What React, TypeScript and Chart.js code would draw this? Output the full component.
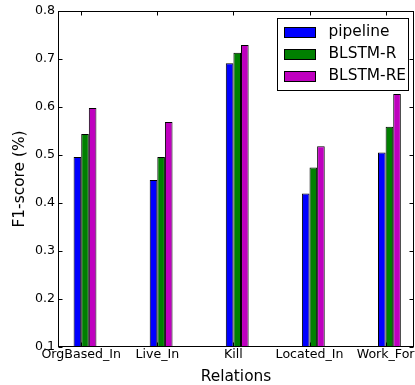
import React, { useEffect, useRef } from "react";
import { Chart, registerables } from "chart.js";

Chart.register(...registerables);

const categories = ["OrgBased_In", "Live_In", "Kill", "Located_In", "Work_For"];
const seriesNames = ["pipeline", "BLSTM-R", "BLSTM-RE"];
const pipeline = [0.496, 0.448, 0.691, 0.42, 0.505];
const blstmR = [0.544, 0.496, 0.713, 0.474, 0.559];
const blstmRE = [0.598, 0.569, 0.729, 0.518, 0.627];
const yTicks = [0.1, 0.2, 0.3, 0.4, 0.5, 0.6, 0.7, 0.8];
const colors = ["#0000ff", "#008000", "#bf00bf"];

const FONT = "'DejaVu Sans', sans-serif";

const frameAndLegend = {
  id: "frameAndLegend",
  afterDatasetsDraw(chart: any) {
    const { ctx, chartArea: ca, scales } = chart;
    ctx.save();
    ctx.strokeStyle = "#000";
    ctx.lineWidth = 1;
    const L = Math.round(ca.left) + 0.5;
    const R = Math.round(ca.right) - 0.5;
    const T = Math.round(ca.top) + 0.5;
    const B = Math.round(ca.bottom) - 0.5;
    ctx.strokeRect(L, T, R - L, B - T);
    const tl = 4;
    ctx.beginPath();
    scales.y.ticks.forEach((_: any, i: number) => {
      const y = Math.round(scales.y.getPixelForTick(i)) + 0.5;
      ctx.moveTo(L, y);
      ctx.lineTo(L + tl, y);
      ctx.moveTo(R, y);
      ctx.lineTo(R - tl, y);
    });
    scales.x.ticks.forEach((_: any, i: number) => {
      const x = Math.round(scales.x.getPixelForTick(i)) + 0.5;
      ctx.moveTo(x, T);
      ctx.lineTo(x, T + tl);
      ctx.moveTo(x, B);
      ctx.lineTo(x, B - tl);
    });
    ctx.stroke();

    // legend
    const bx = Math.round(ca.right - 136.7) + 0.5;
    const by = Math.round(ca.top + 7.3) + 0.5;
    const bw = 131;
    const bh = 72;
    ctx.fillStyle = "#fff";
    ctx.fillRect(bx, by, bw, bh);
    ctx.strokeStyle = "#000";
    ctx.strokeRect(bx, by, bw, bh);
    chart.data.datasets.forEach((ds: any, i: number) => {
      const cy = by + 13.4 + i * 21.8;
      const px = bx + 6.7;
      ctx.fillStyle = ds.backgroundColor;
      ctx.fillRect(Math.round(px) + 0.5, Math.round(cy - 5) + 0.5, 31, 10);
      ctx.strokeStyle = "#000";
      ctx.strokeRect(Math.round(px) + 0.5, Math.round(cy - 5) + 0.5, 31, 10);
      ctx.fillStyle = "#000";
      ctx.font = `15.4px ${FONT}`;
      ctx.textBaseline = "middle";
      ctx.textAlign = "left";
      ctx.fillText(ds.label, bx + 51, cy);
    });
    ctx.restore();
  },
};

export default function App() {
  const ref = useRef<HTMLCanvasElement | null>(null);
  useEffect(() => {
    if (!ref.current) return;
    const series = [pipeline, blstmR, blstmRE];
    const chart = new Chart(ref.current, {
      type: "bar",
      data: {
        datasets: series.map((vals, s) => ({
          label: seriesNames[s],
          data: categories.map((_, i) => ({ x: i + 0.05, y: vals[i] })),
          backgroundColor: colors[s],
          borderColor: "#000",
          borderWidth: 1,
          categoryPercentage: 0.3,
          barPercentage: 1,
        })),
      },
      options: {
        responsive: false,
        animation: false,
        events: [],
        devicePixelRatio: 1,
        layout: { padding: { top: 11, right: 1, left: 0, bottom: 0 } },
        plugins: { legend: { display: false }, tooltip: { enabled: false } },
        scales: {
          x: {
            type: "linear",
            offset: false,
            min: -0.305,
            max: 4.373,
            afterBuildTicks: (s: any) => {
              s.ticks = categories.map((_, i) => ({ value: i }));
            },
            afterFit: (s: any) => {
              s.height = 38;
            },
            grid: { display: false, drawTicks: false, offset: false },
            border: { display: false },
            ticks: {
              callback: (v: any) => categories[v] ?? "",
              padding: 0,
              autoSkip: false,
              maxRotation: 0,
              color: "#000",
              font: { family: FONT, size: 12.6 },
            },
            title: {
              display: true,
              text: "Relations",
              color: "#000",
              font: { family: FONT, size: 15.4, lineHeight: 1 },
              padding: { top: 0, bottom: 0 },
            },
          },
          y: {
            min: 0.1,
            max: 0.8,
            afterBuildTicks: (s: any) => {
              s.ticks = yTicks.map((v) => ({ value: v }));
            },
            afterFit: (s: any) => {
              s.width = 58;
            },
            grid: { display: false, drawTicks: false },
            border: { display: false },
            ticks: {
              callback: (v: any) => Number(v).toFixed(1),
              padding: 3,
              color: "#000",
              font: { family: FONT, size: 12.6 },
            },
            title: {
              display: true,
              text: "F1-score (%)",
              color: "#000",
              font: { family: FONT, size: 15.4, lineHeight: 1.2 },
              padding: { top: 10.8, bottom: 0 },
            },
          },
        },
      },
      plugins: [frameAndLegend],
    });
    return () => chart.destroy();
  }, []);
  return (
    <div style={{ position: "absolute", left: 0, top: 0, width: 415, height: 385, background: "#fff" }}>
      <canvas ref={ref} width={415} height={385} style={{ display: "block" }} />
    </div>
  );
}
